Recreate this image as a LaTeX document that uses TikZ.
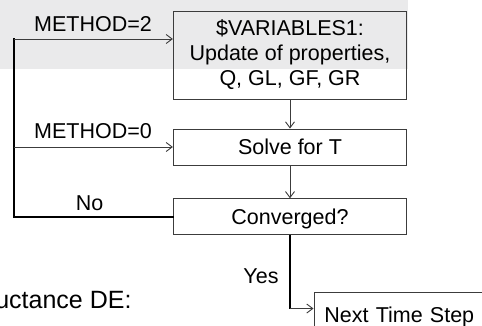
\documentclass[tikz,border=0pt]{standalone}
\usepackage{fontspec}
\setmainfont{Liberation Sans}
\usetikzlibrary{arrows.meta}
\definecolor{bandgray}{RGB}{234,234,235}
\definecolor{linegray}{RGB}{60,60,60}
\begin{document}
\begin{tikzpicture}[x=1pt,y=-1pt,
  box/.style={draw=linegray, line width=0.9pt, minimum width=233.4pt, inner sep=0pt, font=\fontsize{21.5}{25}\selectfont},
  onebox/.style={box, minimum height=36pt, text height=15.3pt, text depth=0pt},
  thinarrow/.style={draw=linegray, line width=0.9pt, -{Straight Barb[length=6pt,width=9pt]}},
  thickline/.style={draw=black, line width=2pt, line cap=rect},
  lbl/.style={font=\fontsize{21.5}{25}\selectfont, inner sep=0pt, anchor=base}]
\useasboundingbox (0,0) rectangle (482,325);
\fill[bandgray] (0,0) rectangle (407.5,69);
\node[box, minimum height=88pt, align=center] (b1) at (290,55) {\$VARIABLES1:\\Update of properties,\\Q, GL, GF, GR};
\node[onebox] (b2) at (290,147) {Solve for T};
\node[onebox] (b3) at (290,216.7) {Converged?};
\node[draw=linegray, line width=0.9pt, anchor=base west, inner xsep=10.5pt, inner ysep=14pt,
      text height=15.5pt, text depth=5pt, text width=155pt, align=left,
      font=\fontsize{21.5}{25}\selectfont] (nx) at (313.5,322) {Next Time Step};
\coordinate (lt) at (14,39);
\coordinate (yc) at (290,308.5);
\draw[thickline] (b3.west) -| (lt);
\draw[thinarrow] (lt) -- (b1.west |- lt);
\draw[thinarrow] (lt |- b2.west) -- (b2.west);
\draw[thinarrow] (b1) -- (b2);
\draw[thinarrow] (b2) -- (b3);
\draw[thickline, line cap=butt] (b3.south) -- (yc);
\draw[thinarrow] (yc) -- (nx.west |- yc);
\node[lbl] (m2) at (93,31) {METHOD=2};
\node[lbl] (m0) at (93,138.3) {METHOD=0};
\node[lbl] (no) at (89.7,210.7) {No};
\node[lbl] (yes) at (261,283) {Yes};
\node[font=\fontsize{25}{29}\selectfont, inner sep=0pt, anchor=base east] (de) at (131.7,308) {uctance DE:};
\end{tikzpicture}
\end{document}
